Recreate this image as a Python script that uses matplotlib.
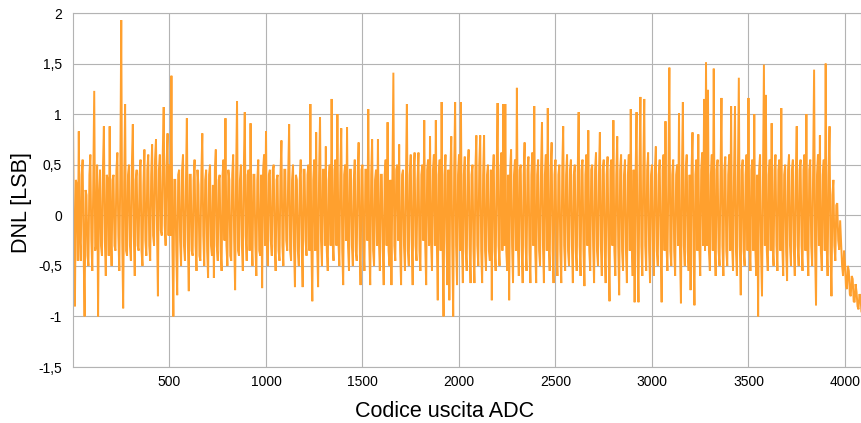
import numpy as np
import matplotlib.pyplot as plt
from matplotlib.ticker import FuncFormatter

# DNL per codice ADC: codici multipli di 10 ...
dnl_0000 = [0.98, -0.9, 0.3, 0.83, -0.45, 0.55, -1.0, 0.2, -0.5, 0.6,
            -0.55, 1.23, -0.3, -1.0, 0.45, -0.4, 0.88, -0.6, 0.35, 0.88,
            -0.5, 0.4, -0.35, 0.62, -0.55, 1.93, -0.92, 1.1, -0.4, 0.5,
            -0.45, 0.9, -0.6, 0.45, -0.35, 0.55, -0.5, 0.65, -0.4, 0.6,
            -0.45, 0.7, -0.3, 0.75, -0.8, 0.6, -0.2, 1.07, -0.3, 0.81]
dnl_0500 = [0.5, 1.38, -1.0, 0.35, -0.79, 0.45, -0.5, 0.6, -0.45, 0.96,
            -0.75, 0.4, -0.4, 0.55, -0.55, 0.3, -0.45, 0.81, -0.5, 0.45,
            -0.62, 0.5, -0.4, -0.62, 0.65, -0.45, 0.4, -0.55, 0.55, 0.96,
            -0.5, 0.35, -0.45, 0.6, -0.74, 1.13, -0.4, 0.5, -0.55, 1.02,
            -0.45, 0.45, 0.91, -0.5, 0.4, -0.6, 0.55, -0.4, -0.72, 0.6]
dnl_1000 = [0.83, -0.5, 0.45, -0.4, 0.5, -0.55, 0.4, -0.45, 0.74, -0.5,
            0.45, -0.35, 0.9, -0.45, 0.5, -0.71, 0.35, -0.5, 0.55, -0.71,
            0.45, -0.4, 0.5, 1.1, -0.85, 0.55, 0.82, -0.71, 0.97, -0.5,
            0.45, 0.68, -0.55, 0.5, 1.15, -0.45, 0.55, 1.0, -0.5, 0.86,
            -0.69, 0.5, 0.87, -0.55, 0.45, -0.5, 0.55, -0.45, 0.72, -0.69]
dnl_1500 = [0.5, -0.55, 0.45, 1.05, -0.69, 0.75, -0.5, 0.45, 0.75, -0.55,
            0.4, -0.69, 0.55, 0.92, -0.5, -0.69, 1.41, -0.45, 0.5, 0.7,
            -0.69, 0.45, -0.55, 1.1, -0.5, 0.6, -0.69, 0.62, -0.45, 0.62,
            -0.55, 0.5, 0.94, -0.69, 0.55, 0.78, -0.55, 0.6, 0.94, -0.84,
            0.55, 1.12, -1.0, 0.6, -0.69, -0.84, 0.78, -1.0, 1.12, -0.69]
dnl_2000 = [0.6, 1.12, -0.67, 0.58, -0.55, 0.65, -0.67, 0.5, -0.67, 0.79,
            -0.5, 0.79, -0.67, 0.79, -0.55, 0.5, -0.45, -0.84, 0.6, -0.55,
            1.11, -0.5, 0.62, 1.1, 1.1, -0.55, -0.84, 0.65, -0.67, 0.55,
            1.26, -0.6, 0.5, -0.67, 0.72, -0.55, 0.58, -0.67, 0.62, 1.08,
            -0.67, 0.55, -0.5, 0.92, -0.67, 0.6, 1.06, -0.55, 0.72, -0.67]
dnl_2500 = [0.55, -0.6, 0.5, -0.67, 0.88, -0.55, 0.6, -0.5, 0.55, -0.67,
            0.5, -0.55, 1.02, -0.6, 0.55, -0.7, 0.6, 0.84, -0.55, 0.5,
            -0.67, 0.62, -0.5, 0.82, -0.6, 0.55, -0.67, 0.58, -0.85, 0.55,
            0.94, -0.6, 0.78, -0.79, 0.6, -0.55, 0.55, -0.67, 0.6, 1.05,
            -0.6, -0.86, 1.02, -0.86, 1.17, -0.6, 1.15, -0.55, 0.62, -0.67]
dnl_3000 = [0.5, -0.6, 0.68, -0.5, 0.55, -0.86, 0.6, 0.93, -0.55, 1.46,
            -0.5, 0.55, -0.6, 0.5, 1.01, -0.87, 1.12, -0.5, 0.6, -0.55,
            -0.74, 0.82, -0.89, 0.55, 0.8, -0.6, 0.62, 1.15, 1.51, 1.24,
            -0.55, 0.6, 1.45, -0.6, 0.55, -0.5, 1.16, -0.6, 0.58, -0.5,
            0.6, 1.08, -0.55, 1.08, -0.6, 1.36, -0.79, 0.55, -0.5, 0.6]
dnl_3500 = [1.16, -0.55, 0.55, 1.0, -0.6, -1.0, 0.6, -0.8, 1.49, 1.19,
            -0.55, 0.55, 0.91, -0.5, 0.6, -0.55, 0.55, 1.06, -0.6, 0.5,
            -0.65, 0.6, -0.5, 0.55, -0.6, 0.88, -0.5, 0.55, -0.55, 0.6,
            1.0, -0.6, 0.55, -0.5, 1.44, -0.89, 0.6, 0.79, -0.55, 0.55,
            1.5, -0.6, 0.88, -0.8, 0.35, -0.45, 0.12, -0.34, -0.27, -0.6]
dnl_4000 = [-0.47, -0.73, -0.55, -0.8, -0.63, -0.86, -0.76, -0.93, -0.8]

# ... e codici intermedi (5, 15, 25, ...)
mid_0000 = [-0.3, 0.35, -0.45, -0.2, 0.4, -0.35, 0.25, -0.4, 0.4, -0.25,
            0.3, -0.35, 0.5, 0.2, -0.3, 0.45, -0.25, 0.4, -0.4, -0.15,
            0.35, -0.3, 0.45, -0.2, 0.4, -0.25, 0.3, -0.35, 0.4, -0.3,
            0.5, -0.2, 0.35, -0.3, 0.4, -0.35, 0.3, -0.25, 0.45, -0.3,
            0.4, -0.2, 0.55, -0.1, 0.45, -0.15, 0.6, -0.1, 0.5, -0.2]
mid_0500 = [-0.2, -0.3, 0.35, -0.35, 0.4, -0.25, 0.45, -0.3, 0.3, -0.25,
            0.4, -0.35, 0.35, -0.3, 0.45, -0.4, 0.4, -0.2, 0.35, -0.35,
            0.4, -0.3, 0.3, 0.45, -0.3, 0.35, -0.35, 0.4, -0.25, -0.3,
            0.45, -0.4, 0.4, -0.25, 0.4, -0.35, 0.35, -0.3, 0.45, -0.2,
            0.4, -0.35, -0.25, 0.4, -0.3, 0.35, -0.35, 0.4, 0.45, -0.3]
mid_1000 = [-0.35, 0.4, -0.25, 0.45, -0.3, 0.35, -0.35, 0.4, -0.3, 0.45,
            -0.25, 0.4, -0.35, 0.35, -0.3, 0.4, -0.35, 0.35, -0.3, 0.45,
            -0.25, 0.4, -0.35, -0.3, 0.35, -0.35, -0.3, 0.4, -0.25, 0.45,
            -0.3, -0.35, 0.35, -0.3, -0.25, 0.45, -0.3, -0.25, 0.4, -0.35,
            0.4, -0.25, -0.3, 0.45, -0.3, 0.35, -0.35, 0.4, -0.25, 0.45]
mid_1500 = [-0.3, 0.45, -0.25, -0.3, 0.4, -0.35, 0.35, -0.3, -0.25, 0.4,
            -0.35, 0.4, -0.3, -0.35, 0.35, 0.4, -0.3, 0.45, -0.25, -0.35,
            0.4, -0.3, 0.35, -0.35, 0.4, -0.25, 0.45, -0.3, 0.35, -0.35,
            0.4, -0.25, -0.3, 0.45, -0.3, -0.25, 0.45, -0.3, -0.25, 0.4,
            -0.35, -0.3, 0.4, -0.25, 0.45, 0.4, -0.3, 0.45, -0.3, 0.4]
mid_2000 = [-0.35, -0.3, 0.4, -0.35, 0.45, -0.3, 0.4, -0.35, 0.45, -0.3,
            0.5, -0.35, 0.4, -0.35, 0.4, -0.35, 0.45, 0.4, -0.35, 0.4,
            -0.3, 0.45, -0.35, -0.3, -0.35, 0.4, 0.45, -0.3, 0.4, -0.35,
            -0.3, 0.45, -0.35, 0.4, -0.3, 0.45, -0.35, 0.4, -0.3, -0.35,
            0.4, -0.35, 0.45, -0.3, 0.4, -0.35, -0.3, 0.45, -0.35, 0.4]
mid_2500 = [-0.35, 0.4, -0.35, 0.45, -0.3, 0.4, -0.35, 0.45, -0.3, 0.4,
            -0.35, 0.4, -0.3, 0.45, -0.35, 0.4, -0.3, -0.35, 0.45, -0.3,
            0.45, -0.35, 0.4, -0.3, 0.45, -0.35, 0.4, -0.35, 0.45, -0.3,
            -0.35, 0.4, -0.3, 0.45, -0.35, 0.4, -0.35, 0.4, -0.35, -0.3,
            0.45, 0.4, -0.35, 0.4, -0.3, 0.45, -0.3, 0.45, -0.35, 0.4]
mid_3000 = [-0.3, 0.45, -0.35, 0.4, -0.3, 0.45, -0.35, -0.3, 0.4, -0.35,
            0.4, -0.35, 0.4, -0.3, -0.35, 0.4, -0.3, 0.45, -0.35, 0.4,
            0.45, -0.3, 0.4, -0.35, -0.3, 0.45, -0.3, -0.35, -0.3, -0.35,
            0.4, -0.35, -0.3, 0.45, -0.35, 0.4, -0.3, 0.45, -0.35, 0.4,
            -0.35, -0.3, 0.4, -0.35, 0.4, -0.3, 0.45, -0.35, 0.4, -0.35]
mid_3500 = [-0.3, 0.45, -0.35, -0.3, 0.4, 0.45, -0.35, 0.4, -0.3, -0.35,
            0.4, -0.35, -0.3, 0.45, -0.3, 0.45, -0.35, -0.3, 0.4, -0.35,
            0.45, -0.3, 0.45, -0.35, 0.4, -0.3, 0.45, -0.3, 0.45, -0.35,
            -0.3, 0.45, -0.3, 0.45, -0.35, 0.4, -0.3, -0.35, 0.4, -0.35,
            -0.3, 0.4, -0.35, 0.2, -0.3, 0.1, -0.25, -0.05, -0.5, -0.35]
mid_4000 = [-0.7, -0.5, -0.78, -0.6, -0.85, -0.68, -0.9, -0.78, -0.95]

dnl_even = (dnl_0000 + dnl_0500 + dnl_1000 + dnl_1500 + dnl_2000
            + dnl_2500 + dnl_3000 + dnl_3500 + dnl_4000)
dnl_odd = (mid_0000 + mid_0500 + mid_1000 + mid_1500 + mid_2000
           + mid_2500 + mid_3000 + mid_3500 + mid_4000)

codes = np.concatenate([np.arange(len(dnl_even)) * 10,
                        np.arange(len(dnl_odd)) * 10 + 5])
dnl = np.array(dnl_even + dnl_odd)
order = np.argsort(codes, kind="stable")
codes, dnl = codes[order], dnl[order]

fig = plt.figure(figsize=(8.61, 4.23), dpi=100)
ax = fig.add_axes([73 / 861, 56 / 423, 1 - 73 / 861, 354 / 423])

ax.plot(codes, dnl, color="#ffa02e", lw=1.4, solid_joinstyle="miter")

ax.set_xlim(0, 4083)
ax.set_ylim(-1.5, 2)
ax.set_xticks(np.arange(500, 4001, 500))
ax.set_yticks(np.arange(-1.5, 2.01, 0.5))
ax.yaxis.set_major_formatter(FuncFormatter(lambda v, p: f"{v:g}".replace(".", ",")))

ax.grid(True, color="#b3b3b3", lw=0.8)
ax.set_axisbelow(True)
for side in ["top", "right", "bottom", "left"]:
    ax.spines[side].set_color("#b3b3b3")
    ax.spines[side].set_linewidth(0.8)
ax.tick_params(length=0, labelsize=10, colors="black")
ax.tick_params(axis="y", pad=8)
ax.tick_params(axis="x", pad=6)
for lab in ax.get_xticklabels() + ax.get_yticklabels():
    lab.set_family("Liberation Sans")

fig.text(445 / 861, 12 / 423, "Codice uscita ADC", ha="center", va="center",
         fontsize=15.5, family="Liberation Sans")
fig.text(21.5 / 861, 1 - 203 / 423, "DNL [LSB]", ha="center", va="center",
         rotation=90, fontsize=15.5, family="Liberation Sans")

plt.savefig("out.png", dpi=100)
plt.close()
